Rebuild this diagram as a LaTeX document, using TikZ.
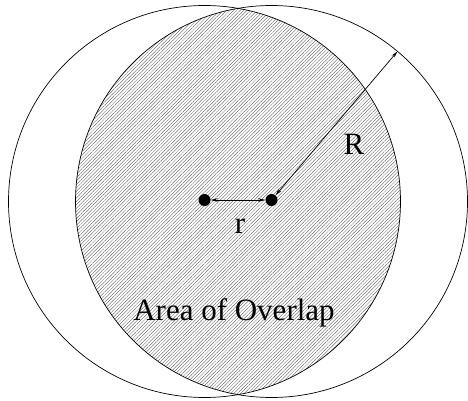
\documentclass[tikz,border=0pt]{standalone}
\usepackage{fontspec}
\setmainfont{Liberation Serif}
\usetikzlibrary{arrows.meta,calc,patterns.meta}

\begin{document}
\begin{tikzpicture}[x=1pt, y=1pt, every node/.style={font=\fontsize{31}{36}\selectfont},
    dot/.style={circle, fill=black, inner sep=0pt, minimum size=12pt},
    dim/.style={{Stealth[length=7pt,width=3.5pt]}-{Stealth[length=7pt,width=3.5pt]}, line width=0.7pt}]
            \useasboundingbox (0,0) rectangle (468,400);
            % overlap
            \begin{scope}
                \clip (204.5,198.5) circle (196);
                \fill[pattern={Lines[angle=45, distance=2.4pt, line width=0.3pt]}, pattern color=black!70] (271.5,198.5) circle (196);
            \end{scope}
            \draw[line width=0.7pt] (204.5,198.5) circle (196);
            \draw[line width=0.7pt] (271.5,198.5) circle (196);
            
            \node[dot] (L) at (204.5,200) {};
            \node[dot] (M) at (271.5,200) {};
            \coordinate (E) at ($(271.5,198.5)+(50:196)$);
            
            \draw[dim] (L) -- (M);
            \draw[dim] (M) -- (E);
            
            \node[anchor=base] (rlab) at (240,167) {r};
            \node[anchor=base] (Rlab) at (354,246) {R};
            \node[anchor=base] (area) at (234,80) {Area of Overlap};
        \end{tikzpicture}
\end{document}
